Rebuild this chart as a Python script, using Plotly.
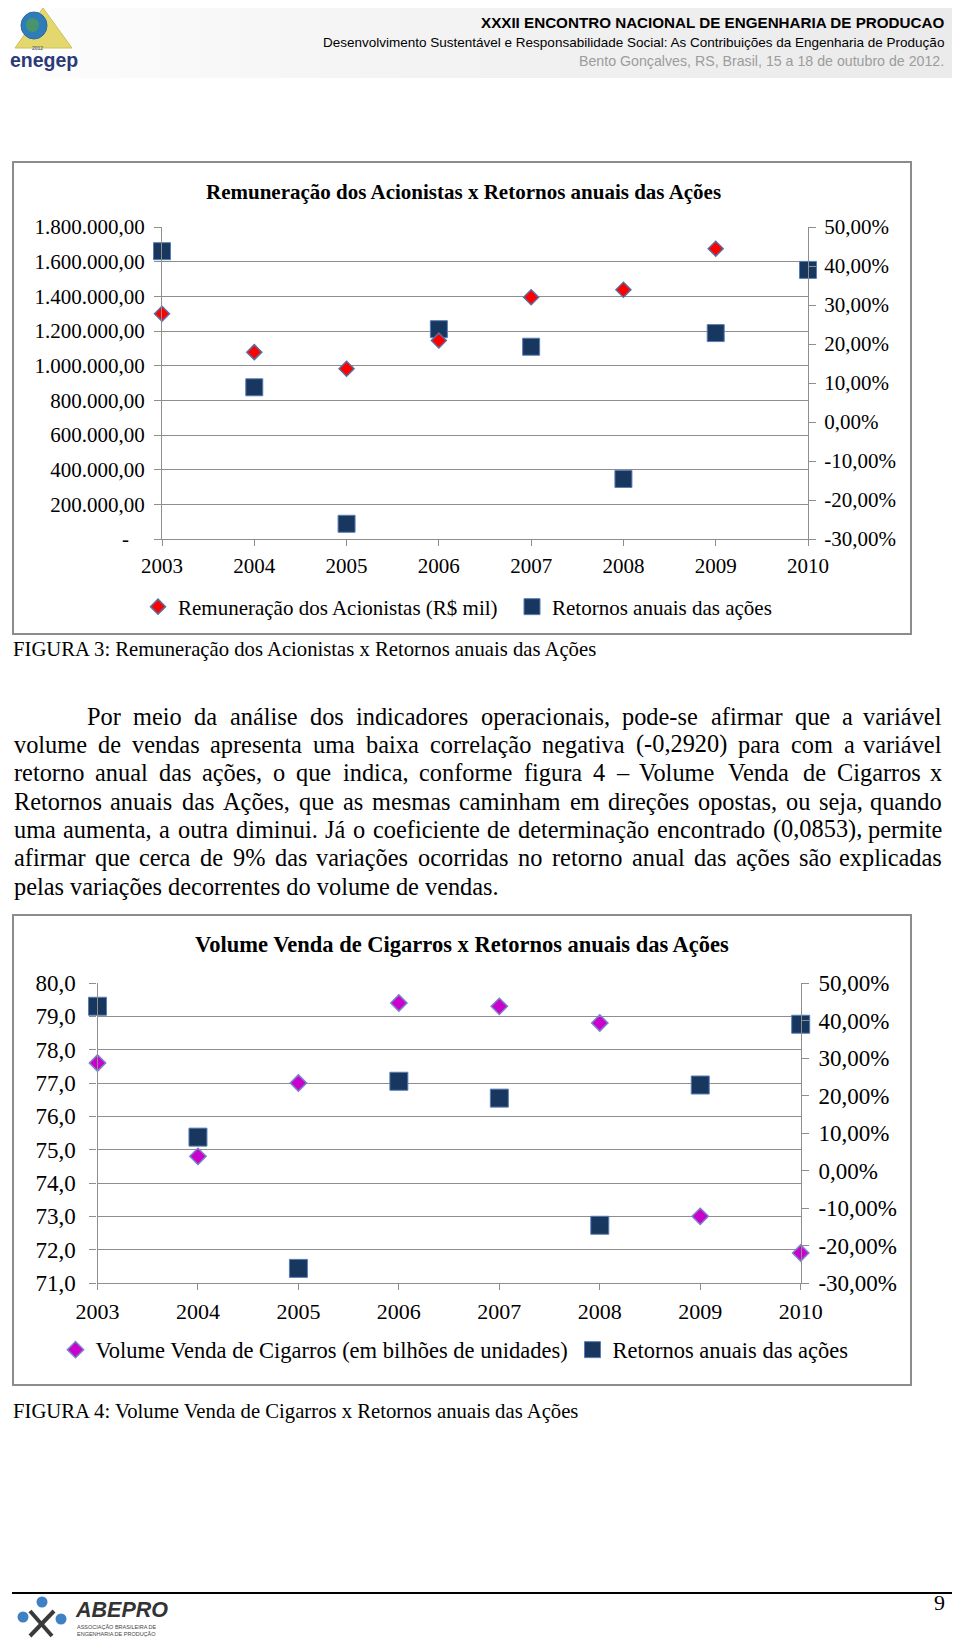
import unicodedata
import plotly.graph_objects as go

# dados
anos = [2003, 2004, 2005, 2006, 2007, 2008, 2009, 2010]
remuneracao = [1300000, 1078000, 982000, 1145000, 1395000, 1438000, 1675000, None]
retornos = [43.8, 8.9, -26.1, 23.8, 19.3, -14.6, 22.8, 39.0]
volume = [77.6, 74.8, 77.0, 79.4, 79.3, 78.8, 73.0, 71.9]

rem_ticks = [0, 200000, 400000, 600000, 800000, 1000000, 1200000, 1400000, 1600000, 1800000]
pct_ticks = [-30, -20, -10, 0, 10, 20, 30, 40, 50]
vol_ticks = [71, 72, 73, 74, 75, 76, 77, 78, 79, 80]


def br(v, dec):
    s = f"{v:,.{dec}f}"
    return s.replace(",", "#").replace(".", ",").replace("#", ".")


rem_labels = ["-\u00a0\u00a0\u00a0" if v == 0 else br(v, 2) for v in rem_ticks]
pct_labels = [br(v, 2) + "%" for v in pct_ticks]
vol_labels = [br(v, 1) for v in vol_ticks]

body = [
    "Por meio da análise dos indicadores operacionais, pode-se afirmar que a variável",
    "volume de vendas apresenta uma baixa correlação negativa (-0,2920) para com a variável",
    "retorno anual das ações, o que indica, conforme figura 4 – Volume Venda de Cigarros x",
    "Retornos anuais das Ações, que as mesmas caminham em direções opostas, ou seja, quando",
    "uma aumenta, a outra diminui. Já o coeficiente de determinação encontrado (0,0853), permite",
    "afirmar que cerca de 9% das variações ocorridas no retorno anual das ações são explicadas",
    "pelas variações decorrentes do volume de vendas.",
]

# a pagina tem margem de 8px no body: a figura ocupa o resto
OFF = 8
W, H = 960 - OFF, 1644 - OFF
SERIF = "Liberation Serif, Times New Roman, serif"
SANS = "Liberation Sans, Arial, sans-serif"
GRID = "#8E8E8E"
NAVY = "#17375E"
F1, F2 = 21, 23


def px(x):
    return (x - OFF) / W


def py(y):
    return 1 - (y - OFF) / H


fig = go.Figure()

# grafico 1
fig.add_trace(go.Scatter(
    x=anos, y=retornos, xaxis="x", yaxis="y", mode="markers", cliponaxis=False,
    name="Retornos anuais das ações", legend="legend", legendrank=2,
    marker=dict(symbol="square", size=17, color=NAVY, line=dict(color="#5B7DB5", width=1)),
))
fig.add_trace(go.Scatter(
    x=anos, y=remuneracao, xaxis="x", yaxis="y2", mode="markers", cliponaxis=False,
    name="Remuneração dos Acionistas (R$ mil)", legend="legend", legendrank=1, legendwidth=329,
    marker=dict(symbol="diamond", size=11.5, color="#FF0000", line=dict(color="#5A6EA0", width=1.5)),
))

# grafico 2
fig.add_trace(go.Scatter(
    x=anos, y=retornos, xaxis="x2", yaxis="y3", mode="markers", cliponaxis=False,
    name="Retornos anuais das ações", legend="legend2", legendrank=2,
    marker=dict(symbol="square", size=18, color=NAVY, line=dict(color="#5B7DB5", width=1)),
))
fig.add_trace(go.Scatter(
    x=anos, y=volume, xaxis="x2", yaxis="y4", mode="markers", cliponaxis=False,
    name="Volume Venda de Cigarros (em bilhões de unidades)", legend="legend2", legendrank=1,
    legendwidth=472,
    marker=dict(symbol="diamond", size=12.5, color="#CC00CC", line=dict(color="#7A80C8", width=1.5)),
))

ax = dict(showline=True, linecolor=GRID, linewidth=1.3, ticks="outside", tickcolor=GRID,
          tickwidth=1.3, zeroline=False, fixedrange=True)

fig.update_layout(
    width=W, height=H, margin=dict(l=0, r=0, t=0, b=0, autoexpand=False),
    paper_bgcolor="white", plot_bgcolor="white",
    xaxis=dict(ax, domain=[px(162), px(808)], anchor="y", range=[2003, 2010], showgrid=False,
               tickvals=anos, ticktext=[str(a) for a in anos], ticklen=6, ticklabelstandoff=2,
               tickfont=dict(family=SERIF, size=F1, color="black")),
    yaxis=dict(ax, domain=[py(539), py(227)], anchor="x", side="right", range=[-30, 50],
               showgrid=False, tickvals=pct_ticks, ticktext=pct_labels, ticklen=7,
               ticklabelstandoff=4, tickfont=dict(family=SERIF, size=F1, color="black")),
    yaxis2=dict(ax, overlaying="y", anchor="x", side="left", range=[0, 1800000],
                showgrid=True, gridcolor=GRID, gridwidth=1.3, tickvals=rem_ticks,
                ticktext=rem_labels, ticklen=7, ticklabelstandoff=5,
                tickfont=dict(family=SERIF, size=F1, color="black")),
    xaxis2=dict(ax, domain=[px(97.5), px(800.7)], anchor="y3", range=[2003, 2010], showgrid=False,
                tickvals=anos, ticktext=[str(a) for a in anos], ticklen=6, ticklabelstandoff=2,
                tickfont=dict(family=SERIF, size=22, color="black")),
    yaxis3=dict(ax, domain=[py(1283), py(983)], anchor="x2", side="right", range=[-30, 50],
                showgrid=False, tickvals=pct_ticks, ticktext=pct_labels, ticklen=7,
                ticklabelstandoff=5, tickfont=dict(family=SERIF, size=F2, color="black")),
    yaxis4=dict(ax, overlaying="y3", anchor="x2", side="left", range=[71, 80],
                showgrid=True, gridcolor=GRID, gridwidth=1.3, tickvals=vol_ticks,
                ticktext=vol_labels, ticklen=7, ticklabelstandoff=9,
                tickfont=dict(family=SERIF, size=F2, color="black")),
    legend=dict(orientation="h", x=px(138), y=py(607), xanchor="left", yanchor="middle",
                font=dict(family=SERIF, size=F1, color="black"), bgcolor="rgba(0,0,0,0)",
                traceorder="normal"),
    legend2=dict(orientation="h", x=px(55.5), y=py(1350), xanchor="left", yanchor="middle",
                 font=dict(family=SERIF, size=22.5, color="black"), bgcolor="rgba(0,0,0,0)",
                 traceorder="normal"),
    showlegend=True,
)

shapes = []
ann = []

# faixa do cabecalho
n = 24
for i in range(n):
    g = int(255 - 20 * (i / (n - 1)) ** 0.7)
    shapes.append(dict(type="rect", xref="paper", yref="paper", layer="below",
                       x0=px(960 * i / n), x1=px(960 * (i + 1) / n), y0=py(78), y1=py(0),
                       fillcolor=f"rgb({g},{g},{g})", line=dict(width=0)))

# logo enegep
shapes.append(dict(type="path", xref="paper", yref="paper",
                   path=f"M {px(43)},{py(8)} L {px(15)},{py(48)} L {px(72)},{py(48)} Z",
                   fillcolor="#E4D76E", line=dict(color="#C9C25A", width=1)))
shapes.append(dict(type="circle", xref="paper", yref="paper",
                   x0=px(21), x1=px(47), y0=py(39), y1=py(12),
                   fillcolor="#2F7DB8", line=dict(color="#2A6C9E", width=1)))
shapes.append(dict(type="circle", xref="paper", yref="paper",
                   x0=px(26), x1=px(39), y0=py(32), y1=py(18),
                   fillcolor="#4E9A5A", line=dict(width=0), opacity=0.8))
ann.append(dict(text="<b>enegep</b>", x=px(44), y=py(60), font=dict(family=SANS, size=19.5, color="#2B3A78")))
ann.append(dict(text="2012", x=px(37), y=py(48), font=dict(family=SANS, size=5, color="#2B3A78")))

ann.append(dict(text="<b>XXXII ENCONTRO NACIONAL DE ENGENHARIA DE PRODUCAO</b>", x=px(945), y=py(22),
                xanchor="right", font=dict(family=SANS, size=15.2, color="black")))
ann.append(dict(text="Desenvolvimento Sustentável e Responsabilidade Social: As Contribuições da Engenharia de Produção",
                x=px(945), y=py(43), xanchor="right", font=dict(family=SANS, size=13.5, color="black")))
ann.append(dict(text="Bento Gonçalves, RS, Brasil, 15 a 18 de outubro de 2012.", x=px(945), y=py(61),
                xanchor="right", font=dict(family=SANS, size=14.2, color="#9C9C9C")))

# molduras dos graficos
for top, bot in [(162, 634), (915, 1385)]:
    shapes.append(dict(type="rect", xref="paper", yref="paper", x0=px(13), x1=px(911),
                       y0=py(bot), y1=py(top), line=dict(color="#8C8C8C", width=2)))

ann.append(dict(text="<b>Remuneração dos Acionistas x Retornos anuais das Ações</b>", x=px(463), y=py(192),
                font=dict(family=SERIF, size=F1, color="black")))
ann.append(dict(text="<b>Volume Venda de Cigarros x Retornos anuais das Ações</b>", x=px(462), y=py(944),
                font=dict(family=SERIF, size=22.5, color="black")))

ann.append(dict(text="FIGURA 3: Remuneração dos Acionistas x Retornos anuais das Ações", x=px(12), y=py(649),
                xanchor="left", font=dict(family=SERIF, size=20.7, color="black")))
ann.append(dict(text="FIGURA 4: Volume Venda de Cigarros x Retornos anuais das Ações", x=px(12), y=py(1411),
                xanchor="left", font=dict(family=SERIF, size=20.7, color="black")))

# paragrafo justificado (larguras aproximadas da Times)
TIMES = {" ": 250, ",": 250, ".": 250, "-": 333, "(": 333, ")": 333, "%": 833, "–": 500, ":": 278,
         "A": 722, "C": 667, "J": 389, "P": 556, "R": 667, "V": 722,
         "a": 444, "b": 500, "c": 444, "d": 500, "e": 444, "f": 333, "g": 500, "h": 500, "i": 278,
         "j": 278, "k": 500, "l": 278, "m": 778, "n": 500, "o": 500, "p": 500, "q": 500, "r": 333,
         "s": 389, "t": 278, "u": 500, "v": 500, "w": 722, "x": 500, "y": 500, "z": 444}


def em(s):
    return sum(TIMES.get(unicodedata.normalize("NFD", ch)[0], 500) for ch in s) / 1000


left, right = 12.6, 943
line_y = [716, 744, 772.5, 801, 829, 857.5, 886]
starts = [86] + [left] * 6
fs = 24.5
for i in range(6):
    fs = min(fs, (right - starts[i]) / em(body[i]) * 0.98)

for i, line in enumerate(body):
    if i == len(body) - 1:
        ann.append(dict(text=line, x=px(starts[i]), y=py(line_y[i]), xanchor="left",
                        font=dict(family=SERIF, size=fs, color="black")))
        continue
    words = line.split(" ")
    widths = [em(w) * fs for w in words]
    gap = (right - starts[i] - sum(widths)) / (len(words) - 1)
    x = starts[i]
    for j, w in enumerate(words):
        last = j == len(words) - 1
        ann.append(dict(text=w, x=px(right if last else x), y=py(line_y[i]),
                        xanchor="right" if last else "left",
                        font=dict(family=SERIF, size=fs, color="black")))
        x += widths[j] + gap

# rodape
shapes.append(dict(type="line", xref="paper", yref="paper", x0=px(12), x1=px(960),
                   y0=py(1593), y1=py(1593), line=dict(color="black", width=2)))
ann.append(dict(text="9", x=px(939), y=py(1602), font=dict(family=SERIF, size=22, color="black")))
for cx, cy in [(42, 1602), (23, 1617), (61, 1619)]:
    shapes.append(dict(type="circle", xref="paper", yref="paper", x0=px(cx - 5.5), x1=px(cx + 5.5),
                       y0=py(cy + 5.5), y1=py(cy - 5.5), fillcolor="#3F82C4", line=dict(width=0)))
for a, b in [((30, 1611), (52, 1636)), ((54, 1611), (30, 1636))]:
    shapes.append(dict(type="line", xref="paper", yref="paper", x0=px(a[0]), y0=py(a[1]),
                       x1=px(b[0]), y1=py(b[1]), line=dict(color="#3A3A3A", width=4)))
ann.append(dict(text="<b>ABEPRO</b>", x=px(74), y=py(1610), xanchor="left",
                font=dict(family=SANS, size=21.5, color="#333333", style="italic")))
ann.append(dict(text="ASSOCIAÇÃO BRASILEIRA DE<br>ENGENHARIA DE PRODUÇÃO", x=px(76), y=py(1630),
                xanchor="left", align="left", font=dict(family=SANS, size=5.5, color="#444444")))

for a in ann:
    a.setdefault("xref", "paper")
    a.setdefault("yref", "paper")
    a.setdefault("xanchor", "center")
    a.setdefault("yanchor", "middle")
    a.setdefault("showarrow", False)
    a.setdefault("borderpad", 0)

fig.update_layout(shapes=shapes, annotations=ann)
fig.write_html("out.html")
